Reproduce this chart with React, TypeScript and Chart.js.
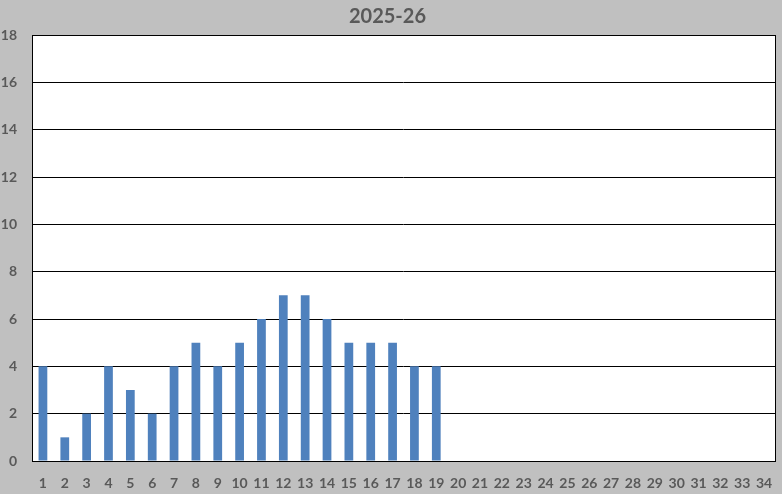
import React, { useEffect, useRef } from "react";
import { Chart, registerables } from "chart.js";

Chart.register(...registerables);

const categories: string[] = Array.from({ length: 34 }, (_, i) => String(i + 1));
const values: (number | null)[] = [4, 1, 2, 4, 3, 2, 4, 5, 4, 5, 6, 7, 7, 6, 5, 5, 5, 4, 4,
  null, null, null, null, null, null, null, null, null, null, null, null, null, null, null, null];
const chartTitle = "2025-26";
const yMax = 18;
const yStep = 2;

const borderPlugin = {
  id: "plotBorder",
  afterDraw(chart: any) {
    const { ctx, chartArea } = chart;
    ctx.save();
    ctx.strokeStyle = "#000000";
    ctx.lineWidth = 1;
    ctx.strokeRect(
      Math.round(chartArea.left) + 0.5,
      Math.round(chartArea.top) + 0.5,
      Math.round(chartArea.right - chartArea.left),
      Math.round(chartArea.bottom - chartArea.top)
    );
    ctx.restore();
  },
};

const bgPlugin = {
  id: "bgFill",
  beforeDraw(chart: any) {
    const { ctx, chartArea, width, height } = chart;
    ctx.save();
    ctx.fillStyle = "#c0c0c0";
    ctx.fillRect(0, 0, width, height);
    ctx.fillStyle = "#ffffff";
    ctx.fillRect(chartArea.left, chartArea.top, chartArea.right - chartArea.left, chartArea.bottom - chartArea.top);
    ctx.restore();
  },
};

export default function App() {
  const ref = useRef<HTMLCanvasElement | null>(null);
  useEffect(() => {
    document.body.style.margin = "0";
    const canvas = ref.current!;
    const chart = new Chart(canvas, {
      type: "bar",
      data: {
        labels: categories,
        datasets: [
          {
            data: values as any,
            backgroundColor: "#4f81bd",
            barPercentage: 0.4,
            categoryPercentage: 1,
          },
        ],
      },
      options: {
        animation: false,
        responsive: false,
        layout: { padding: { left: 0, right: 7, top: 0, bottom: 0 } },
        plugins: {
          legend: { display: false },
          tooltip: { enabled: false },
          title: {
            display: true,
            text: chartTitle,
            color: "#595959",
            font: { family: "Lato", size: 20, weight: "bold" },
            padding: { top: 5, bottom: 6 },
          },
        },
        scales: {
          x: {
            grid: { display: false },
            border: { display: false },
            ticks: {
              color: "#595959",
              font: { family: "Lato", size: 14, weight: "bold" },
              maxRotation: 0,
              autoSkip: false,
              padding: 6,
            },
            afterFit(scale: any) {
              scale.height = 33;
            },
          },
          y: {
            min: 0,
            max: yMax,
            ticks: {
              stepSize: yStep,
              color: "#595959",
              font: { family: "Lato", size: 14, weight: "bold" },
              padding: 15,
            },
            grid: { color: "#000000", lineWidth: 1, drawTicks: false },
            border: { display: false },
            afterFit(scale: any) {
              scale.width = 32;
            },
          },
        },
      },
      plugins: [bgPlugin, borderPlugin],
    });
    return () => chart.destroy();
  }, []);
  return (
    <div style={{ width: 782, height: 494 }}>
      <canvas ref={ref} width={782} height={494} style={{ display: "block" }} />
    </div>
  );
}
